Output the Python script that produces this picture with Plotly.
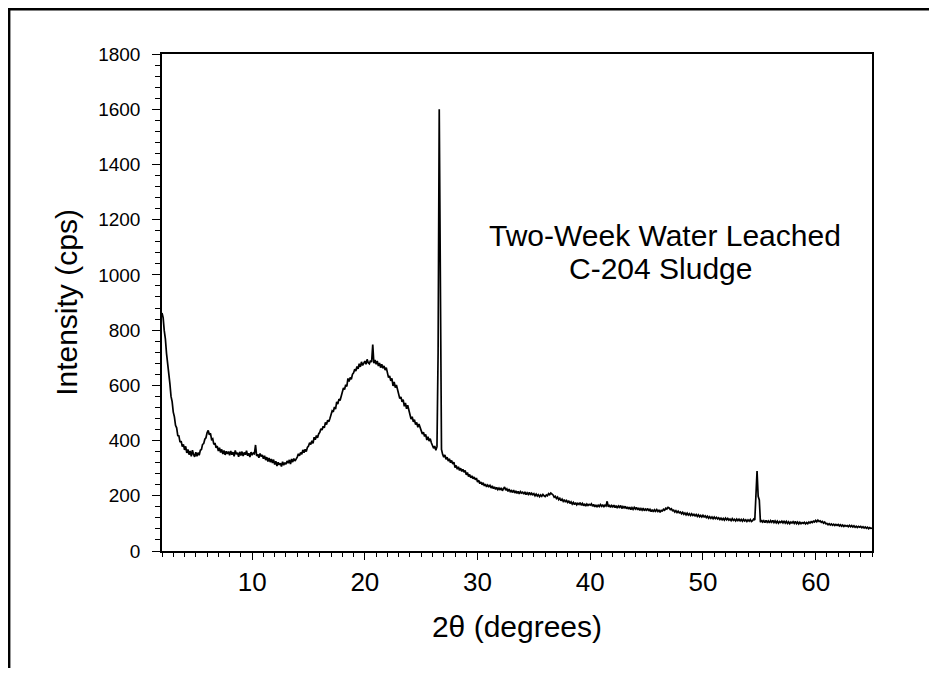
import plotly.graph_objects as go

# Scan grid of the diffractometer: 2-theta from 2.0 to 65.0 degrees in 0.1 degree steps
two_theta_start = 2.0
two_theta_step = 0.1

# Intensity (cps), one row per degree (x.0 ... x.9)
intensity_cps = [
    862, 845, 798, 768, 716, 684, 636, 606, 560, 541,   # 2
    503, 486, 455, 446, 418, 417, 394, 398, 378, 386,   # 3
    366, 379, 355, 368, 349, 362, 343, 365, 350, 341,   # 4
    358, 343, 356, 347, 365, 368, 386, 389, 405, 410,   # 5
    428, 437, 421, 426, 404, 407, 386, 391, 374, 380,   # 6
    362, 374, 357, 368, 351, 364, 348, 361, 352, 360,   # 7
    347, 362, 349, 358, 343, 364, 350, 356, 341, 359,   # 8
    346, 360, 344, 357, 349, 363, 345, 354, 340, 358,   # 9
    347, 355, 352, 384, 344, 350, 338, 353, 342, 348,   # 10
    334, 345, 329, 340, 324, 337, 322, 333, 319, 331,   # 11
    313, 325, 308, 321, 312, 318, 306, 323, 311, 320,   # 12
    314, 326, 318, 330, 315, 333, 322, 335, 326, 332,   # 13
    340, 352, 345, 357, 350, 366, 356, 368, 360, 375,   # 14
    380, 392, 386, 399, 390, 412, 403, 418, 410, 424,   # 15
    430, 443, 438, 452, 446, 466, 458, 474, 468, 480,   # 16
    495, 508, 504, 522, 514, 540, 532, 550, 545, 560,   # 17
    575, 590, 585, 602, 596, 625, 614, 628, 622, 640,   # 18
    645, 658, 652, 668, 660, 678, 667, 685, 672, 680,   # 19
    688, 676, 694, 682, 678, 690, 684, 748, 680, 692,   # 20
    676, 688, 670, 681, 664, 676, 662, 670, 655, 664,   # 21
    640, 628, 634, 616, 625, 598, 612, 592, 601, 586,   # 22
    566, 552, 558, 540, 548, 524, 536, 515, 528, 508,   # 23
    494, 478, 486, 468, 476, 458, 466, 448, 460, 442,   # 24
    436, 424, 430, 415, 422, 402, 414, 398, 407, 392,   # 25
    383, 372, 380, 365, 378, 720, 1600, 760, 368, 350,  # 26
    340, 348, 332, 340, 326, 334, 320, 328, 315, 322,   # 27
    302, 310, 296, 305, 292, 300, 288, 296, 285, 292,   # 28
    276, 284, 270, 277, 265, 272, 262, 268, 258, 264,   # 29
    250, 256, 244, 250, 240, 247, 236, 242, 232, 239,   # 30
    233, 238, 228, 236, 226, 232, 223, 230, 222, 228,   # 31
    221, 229, 218, 226, 232, 220, 225, 216, 224, 215,   # 32
    219, 212, 221, 210, 218, 209, 216, 207, 215, 210,   # 33
    213, 206, 214, 204, 211, 205, 212, 203, 209, 204,   # 34
    208, 200, 206, 199, 204, 197, 203, 198, 205, 200,   # 35
    197, 203, 200, 208, 204, 210, 206, 203, 195, 198,   # 36
    190, 195, 186, 191, 182, 188, 180, 186, 177, 183,   # 37
    176, 182, 172, 178, 170, 176, 168, 175, 167, 173,   # 38
    169, 175, 166, 172, 164, 171, 163, 170, 165, 169,   # 39
    166, 171, 162, 169, 160, 167, 159, 166, 161, 168,   # 40
    162, 168, 159, 166, 163, 180, 160, 167, 158, 165,   # 41
    160, 166, 157, 164, 155, 163, 158, 165, 154, 161,   # 42
    156, 162, 153, 160, 152, 159, 150, 157, 151, 158,   # 43
    152, 158, 149, 156, 147, 154, 148, 155, 146, 152,   # 44
    148, 154, 145, 151, 143, 150, 142, 149, 144, 150,   # 45
    143, 149, 140, 147, 145, 151, 148, 155, 152, 158,   # 46
    156, 150, 153, 146, 148, 141, 146, 139, 144, 138,   # 47
    141, 135, 140, 133, 138, 131, 137, 130, 135, 129,   # 48
    135, 129, 133, 127, 132, 125, 131, 124, 129, 123,   # 49
    129, 123, 127, 121, 126, 119, 124, 118, 123, 117,   # 50
    123, 117, 122, 116, 120, 114, 119, 113, 118, 112,   # 51
    119, 113, 118, 112, 116, 110, 117, 111, 115, 109,   # 52
    116, 110, 115, 109, 114, 108, 115, 109, 113, 107,   # 53
    113, 108, 114, 107, 110, 116, 112, 240, 290, 198,   # 54
    185, 104, 112, 105, 110, 103, 111, 104, 109, 102,   # 55
    110, 104, 111, 103, 109, 102, 108, 101, 107, 103,   # 56
    108, 102, 109, 101, 107, 100, 106, 99, 105, 101,    # 57
    106, 100, 107, 99, 105, 98, 104, 99, 103, 100,      # 58
    104, 98, 103, 99, 105, 101, 106, 103, 108, 105,     # 59
    111, 106, 112, 107, 109, 104, 107, 101, 105, 99,    # 60
    100, 95, 99, 94, 98, 93, 97, 92, 96, 93,            # 61
    96, 91, 95, 90, 94, 89, 93, 90, 92, 88,             # 62
    93, 88, 92, 87, 91, 86, 90, 85, 89, 86,             # 63
    89, 84, 88, 83, 87, 82, 86, 81, 85, 82,             # 64
    83,                                                 # 65
]

two_theta = [round(two_theta_start + i * two_theta_step, 1) for i in range(len(intensity_cps))]

x_tick_values = [10, 20, 30, 40, 50, 60]
y_tick_values = [0, 200, 400, 600, 800, 1000, 1200, 1400, 1600, 1800]

label_line_1 = "Two-Week Water Leached"
label_line_2 = "C-204 Sludge"

FONT = "Arial, 'Liberation Sans', sans-serif"

fig = go.Figure()
fig.add_trace(go.Scatter(
    x=two_theta, y=intensity_cps, mode="lines",
    line=dict(color="black", width=1.7),
    showlegend=False, hoverinfo="x+y",
))

# the page has an 8 px body margin, so the figure starts 8 px in from the window corner
fig.update_layout(
    width=929, height=660, autosize=False,
    margin=dict(l=154, r=65, t=46, b=117, pad=0),
    paper_bgcolor="white", plot_bgcolor="white",
    font=dict(family=FONT, color="black"),
    showlegend=False,
)

fig.update_xaxes(
    range=[2, 65], tickvals=x_tick_values,
    ticks="outside", ticklen=7, tickwidth=1.2, tickcolor="black",
    minor=dict(dtick=1, tick0=0, ticks="outside", ticklen=4, tickwidth=1.2, tickcolor="black", showgrid=False),
    showline=True, linecolor="black", linewidth=1.5, mirror=True,
    showgrid=False, zeroline=False,
    tickfont=dict(size=26, family=FONT, color="black"),
    title=dict(text="2θ (degrees)", font=dict(size=30, family=FONT, color="black"), standoff=20),
)
fig.update_yaxes(
    range=[0, 1800], tickvals=y_tick_values,
    ticks="outside", ticklen=8, tickwidth=1.2, tickcolor="black",
    minor=dict(dtick=40, tick0=0, ticks="outside", ticklen=5, tickwidth=1.2, tickcolor="black", showgrid=False),
    showline=True, linecolor="black", linewidth=1.5, mirror=True,
    showgrid=False, zeroline=False,
    tickfont=dict(size=19, family=FONT, color="black"),
    ticklabelstandoff=8,
    title=dict(text="Intensity (cps)", font=dict(size=30, family=FONT, color="black"), standoff=12),
)

fig.add_annotation(x=46.63, y=1141, xref="x", yref="y", text=label_line_1, showarrow=False,
                   xanchor="center", yanchor="middle", font=dict(size=30, family=FONT, color="black"))
fig.add_annotation(x=46.19, y=1022, xref="x", yref="y", text=label_line_2, showarrow=False,
                   xanchor="center", yanchor="middle", font=dict(size=30, family=FONT, color="black"))

# Outer frame (left and top edges of the page border); the top edge runs to the figure's right edge
fig.add_shape(type="line", xref="paper", yref="paper", x0=-0.2152, x1=-0.2152, y0=-0.25, y1=1.0901,
              line=dict(color="black", width=2.4))
fig.add_shape(type="line", xref="paper", yref="paper", x0=-0.2169, x1=1.0915, y0=1.0901, y1=1.0901,
              line=dict(color="black", width=2.4))

fig.write_html("out.html")
